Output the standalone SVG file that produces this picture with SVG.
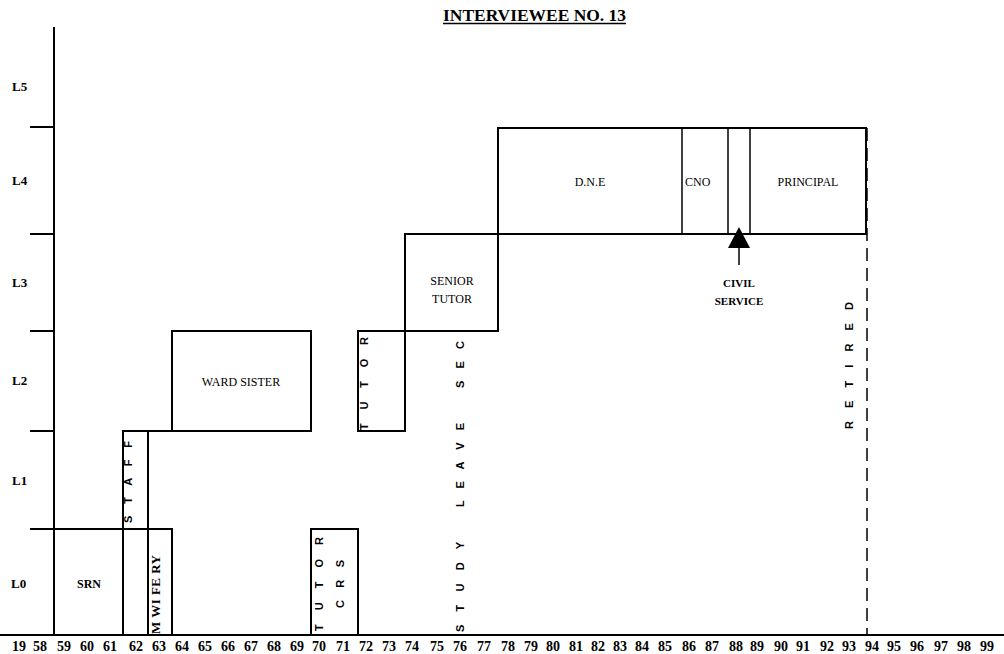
<svg xmlns="http://www.w3.org/2000/svg" width="1004" height="654" viewBox="0 0 1004 654">
<style>
.ln{stroke:#000;stroke-width:2;fill:none;stroke-linecap:square}
.thin{stroke:#000;stroke-width:1.5;fill:none}
.lab{font-family:"Liberation Serif",serif;font-weight:bold;font-size:13px;fill:#000}
.yr{font-family:"Liberation Serif",serif;font-weight:bold;font-size:14px;fill:#000;text-anchor:middle}
.bx{font-family:"Liberation Serif",serif;font-size:12px;fill:#000;text-anchor:middle}
.bxb{font-family:"Liberation Serif",serif;font-weight:bold;font-size:12px;fill:#000;text-anchor:middle}
.vt{font-family:"Liberation Sans",sans-serif;font-weight:bold;font-size:11px;fill:#000}
.ttl{font-family:"Liberation Serif",serif;font-weight:bold;font-size:17px;fill:#000}
</style>
<rect width="1004" height="654" fill="#fff"/>
<g id="title">
<text class="ttl" x="443" y="21" textLength="183" lengthAdjust="spacingAndGlyphs">INTERVIEWEE NO. 13</text>
<line x1="443" y1="23.5" x2="626" y2="23.5" stroke="#000" stroke-width="1.5"/>
</g>
<g id="axes">
<line class="ln" x1="54" y1="28" x2="54" y2="635"/>
<line class="ln" x1="0" y1="635" x2="1003" y2="635"/>
<line class="ln" x1="31" y1="127" x2="54" y2="127"/>
<line class="ln" x1="31" y1="234" x2="54" y2="234"/>
<line class="ln" x1="31" y1="331" x2="54" y2="331"/>
<line class="ln" x1="31" y1="431" x2="54" y2="431"/>
<line class="ln" x1="31" y1="529" x2="54" y2="529"/>
<text class="lab" x="12" y="91">L5</text>
<text class="lab" x="12" y="185">L4</text>
<text class="lab" x="12" y="287">L3</text>
<text class="lab" x="12" y="385">L2</text>
<text class="lab" x="12" y="485">L1</text>
<text class="lab" x="11" y="588">L0</text>
</g>
<g id="years">
<text class="yr" x="19" y="651">19</text>
<text class="yr" x="40" y="651">58</text>
<text class="yr" x="64" y="651">59</text>
<text class="yr" x="87" y="651">60</text>
<text class="yr" x="110" y="651">61</text>
<text class="yr" x="136" y="651">62</text>
<text class="yr" x="159" y="651">63</text>
<text class="yr" x="182" y="651">64</text>
<text class="yr" x="205" y="651">65</text>
<text class="yr" x="228" y="651">66</text>
<text class="yr" x="251" y="651">67</text>
<text class="yr" x="274" y="651">68</text>
<text class="yr" x="297" y="651">69</text>
<text class="yr" x="319" y="651">70</text>
<text class="yr" x="343" y="651">71</text>
<text class="yr" x="366" y="651">72</text>
<text class="yr" x="389" y="651">73</text>
<text class="yr" x="412" y="651">74</text>
<text class="yr" x="437" y="651">75</text>
<text class="yr" x="460" y="651">76</text>
<text class="yr" x="484" y="651">77</text>
<text class="yr" x="508" y="651">78</text>
<text class="yr" x="531" y="651">79</text>
<text class="yr" x="553" y="651">80</text>
<text class="yr" x="576" y="651">81</text>
<text class="yr" x="598" y="651">82</text>
<text class="yr" x="620" y="651">83</text>
<text class="yr" x="642" y="651">84</text>
<text class="yr" x="665" y="651">85</text>
<text class="yr" x="689" y="651">86</text>
<text class="yr" x="712" y="651">87</text>
<text class="yr" x="736" y="651">88</text>
<text class="yr" x="757" y="651">89</text>
<text class="yr" x="781" y="651">90</text>
<text class="yr" x="803" y="651">91</text>
<text class="yr" x="827" y="651">92</text>
<text class="yr" x="849" y="651">93</text>
<text class="yr" x="872" y="651">94</text>
<text class="yr" x="894" y="651">95</text>
<text class="yr" x="917" y="651">96</text>
<text class="yr" x="941" y="651">97</text>
<text class="yr" x="964" y="651">98</text>
<text class="yr" x="987" y="651">99</text>
</g>
<g id="srn">
<line class="ln" x1="31" y1="529" x2="172" y2="529"/>
<line class="ln" x1="123" y1="431" x2="123" y2="635"/>
<text class="bxb" x="89" y="588">SRN</text>
</g>
<g id="staff">
<line class="ln" x1="123" y1="431" x2="172" y2="431"/>
<line class="ln" x1="148" y1="431" x2="148" y2="635"/>
<g transform="translate(132,0) rotate(-90)">
<text class="vt" x="-523" y="0" textLength="82" lengthAdjust="spacing">S T A F F</text>
</g>
</g>
<g id="midwifery">
<line class="ln" x1="172" y1="529" x2="172" y2="635"/>
<g transform="translate(160,0) rotate(-90)">
<text class="lab" x="-634" y="0" textLength="79" lengthAdjust="spacing">M WI FE RY</text>
</g>
</g>
<g id="ward-sister">
<rect class="ln" x="172" y="331" width="139" height="100"/>
<text class="bx" x="241" y="386">WARD SISTER</text>
</g>
<g id="tutor-crs">
<rect class="ln" x="311" y="529" width="47" height="106"/>
<g transform="translate(323,0) rotate(-90)">
<text class="vt" x="-631" y="0" textLength="94" lengthAdjust="spacing">T U T O R</text>
</g>
<g transform="translate(344,0) rotate(-90)">
<text class="vt" x="-608" y="0" textLength="48" lengthAdjust="spacing">C R S</text>
</g>
</g>
<g id="tutor">
<rect class="ln" x="358" y="331" width="47" height="100"/>
<g transform="translate(368,0) rotate(-90)">
<text class="vt" x="-430" y="0" textLength="93" lengthAdjust="spacing">T U T O R</text>
</g>
</g>
<g id="senior-tutor">
<rect class="ln" x="405" y="234" width="93" height="97"/>
<text class="bx" x="452" y="285">SENIOR</text>
<text class="bx" x="452" y="303">TUTOR</text>
</g>
<g id="study-leave">
<g transform="translate(464,0) rotate(-90)">
<text class="vt" x="-632" y="0" textLength="90" lengthAdjust="spacing">S T U D Y</text>
<text class="vt" x="-507" y="0" textLength="84" lengthAdjust="spacing">L E A V E</text>
<text class="vt" x="-388" y="0" textLength="47" lengthAdjust="spacing">S E C</text>
</g>
</g>
<g id="dne">
<rect class="ln" x="498" y="128" width="368" height="106"/>
<text class="bx" x="590" y="186">D.N.E</text>
</g>
<g id="cno">
<line class="thin" x1="682" y1="128" x2="682" y2="234"/>
<text class="bx" x="685" y="186" style="text-anchor:start">CNO</text>
</g>
<g id="civil-service">
<line class="thin" x1="728" y1="128" x2="728" y2="234"/>
<line class="thin" x1="750" y1="128" x2="750" y2="234"/>
<polygon points="739,227 728,248 750,248" fill="#000"/>
<line class="thin" x1="739" y1="248" x2="739" y2="265"/>
<text class="bxb" x="739" y="287" style="font-size:11px">CIVIL</text>
<text class="bxb" x="739" y="305" style="font-size:11px">SERVICE</text>
</g>
<g id="principal">
<text class="bx" x="808" y="186">PRINCIPAL</text>
</g>
<g id="retired">
<line x1="867" y1="128" x2="867" y2="635" stroke="#000" stroke-width="1.5" stroke-dasharray="13 7"/>
<g transform="translate(853,0) rotate(-90)">
<text class="vt" x="-429" y="0" textLength="127" lengthAdjust="spacing">R E T I R E D</text>
</g>
</g>
</svg>
